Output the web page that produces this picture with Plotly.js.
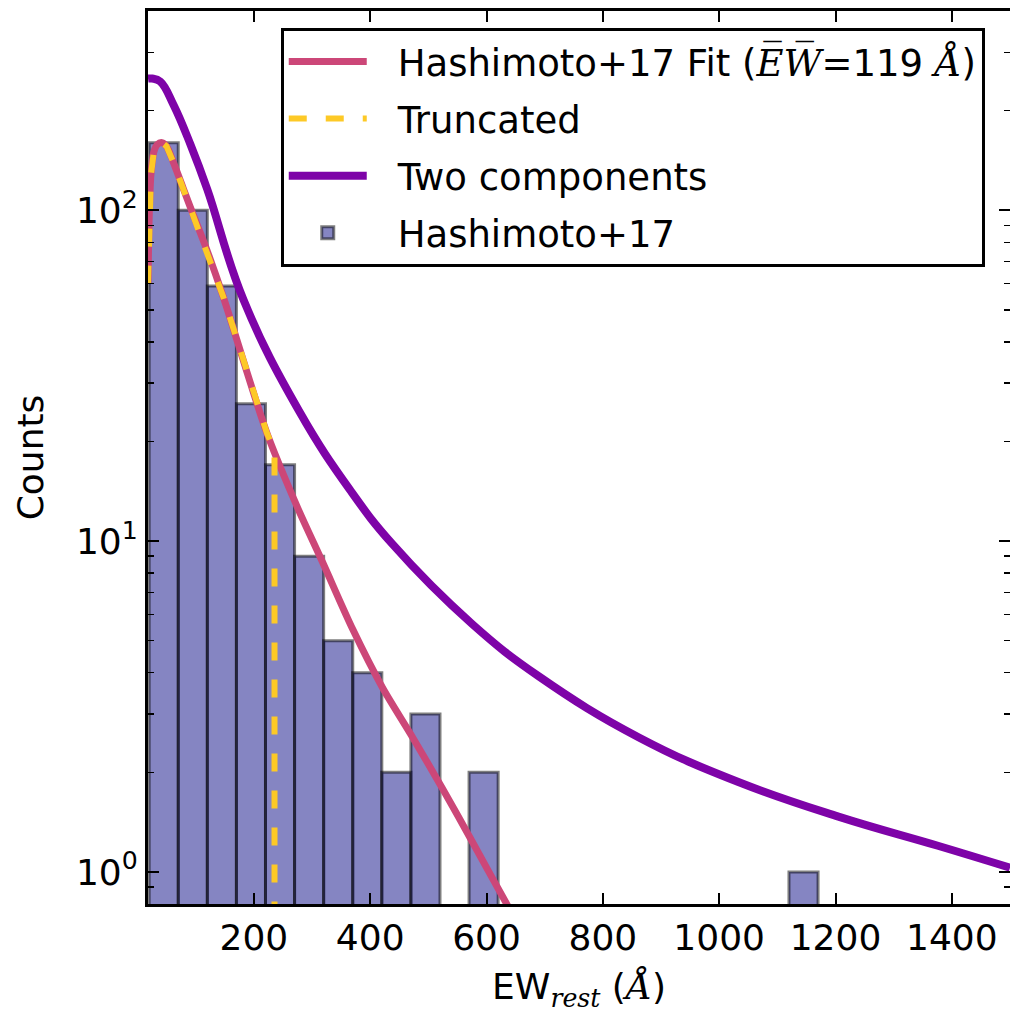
<!DOCTYPE html>
<html>
<head>
<meta charset="utf-8">
<script src="https://cdn.plot.ly/plotly-3.0.1.min.js"></script>
<style>html,body{margin:0;padding:0;background:#fff;}</style>
</head>
<body>
<div id="chart" style="width:1010px;height:1013px;"></div>
<script>
// Histogram (Hashimoto+17): bins of width 50 starting at 20
const binCenters = [45, 95, 145, 195, 245, 295, 345, 395, 445, 495, 595, 1145];
const binCounts  = [160, 100, 59, 26, 17, 9, 5, 4, 2, 3, 2, 1];
const binWidth   = 50;

// Hashimoto+17 fit curve
const fitEW     = [18, 20, 23, 28, 34, 42, 50, 62, 90, 119, 147, 222, 274, 318, 370, 421, 473, 524, 576, 634, 648];
const fitCounts = [60, 95, 128, 150, 158, 160, 156, 139, 103, 76, 55, 21.3, 12.75, 8.64, 5.41, 3.61, 2.55, 1.79, 1.23, 0.804, 0.73];

// Truncated version of the fit
const truncEW     = [18, 20, 23, 28, 34, 42, 50, 62, 90, 119, 147, 222, 235.5, 235.5];
const truncCounts = [60, 95, 128, 150, 158, 160, 156, 139, 103, 76, 55, 21.3, 18.7, 0.5];

// Two components model
const twoEW     = [18, 25, 39, 62, 91, 120, 182, 279, 365, 438, 576, 690, 862, 1033, 1205, 1376, 1500];
const twoCounts = [250, 250, 245, 208, 158, 115.5, 53.7, 24.5, 14.3, 9.8, 5.6, 3.9, 2.55, 1.87, 1.47, 1.2, 1.03];

const xTicks = [200, 400, 600, 800, 1000, 1200, 1400];
const yTickVals = [1, 10, 100];
const yTickText = ['10<sup>0</sup>', '10<sup>1</sup>', '10<sup>2</sup>'];

const FONT = 'DejaVu Sans, sans-serif';
const PAD = '\u2002\u2009';

const traces = [
  {
    type: 'bar', x: binCenters, y: binCounts, width: binWidth,
    name: PAD + 'Hashimoto+17', legendrank: 4, legendgroup: 'd',
    marker: {color: 'rgba(0,0,128,0.48)', line: {color: 'rgba(0,0,0,0.5)', width: 3}},
    hoverinfo: 'x+y'
  },
  {
    type: 'scatter', mode: 'lines', x: fitEW, y: fitCounts,
    name: PAD + 'Hashimoto+17 Fit (<span style="font-family:DejaVu Serif"><i>E\u0305W\u0305</i></span>=119 <span style="font-family:DejaVu Serif"><i>Å</i></span>)',
    legendrank: 1, legendgroup: 'a',
    line: {color: '#cc4778', width: 7, shape: 'spline', smoothing: 0.8}
  },
  {
    type: 'scatter', mode: 'lines', x: truncEW, y: truncCounts,
    name: PAD + 'Truncated', legendrank: 2, legendgroup: 'b',
    line: {color: '#fdc926', width: 6, dash: '18px,19px', shape: 'linear'}
  },
  {
    type: 'scatter', mode: 'lines', x: twoEW, y: twoCounts,
    name: PAD + 'Two components', legendrank: 3, legendgroup: 'c',
    line: {color: '#7e03a8', width: 8, shape: 'spline', smoothing: 1.2}
  }
];

const layout = {
  width: 1010, height: 1013,
  margin: {l: 148, r: 0, t: 11, b: 109},
  paper_bgcolor: '#fff', plot_bgcolor: '#fff',
  font: {family: FONT, size: 36, color: '#000'},
  bargap: 0,
  showlegend: true,
  legend: {
    x: 0.154, y: 0.981, xanchor: 'left', yanchor: 'top',
    bgcolor: '#fff', bordercolor: '#000', borderwidth: 3,
    font: {family: FONT, size: 37, color: '#000'},
    traceorder: 'grouped', tracegroupgap: 6, itemwidth: 78
  },
  xaxis: {
    range: [18, 1500], tickvals: xTicks, ticks: 'inside', ticklen: 11, tickwidth: 2,
    tickcolor: '#000', showline: true, linewidth: 3, linecolor: '#000', mirror: 'ticks',
    showgrid: false, zeroline: false,
    tickfont: {family: FONT, size: 36},
    title: {text: 'EW<sub><span style="font-family:DejaVu Serif"><i>rest</i></span></sub> (<span style="font-family:DejaVu Serif"><i>Å</i></span>)', font: {family: FONT, size: 36}, standoff: 24}
  },
  yaxis: {
    type: 'log', range: [Math.log10(0.8), Math.log10(400)],
    tickvals: yTickVals, ticktext: yTickText,
    ticks: 'inside', ticklen: 11, tickwidth: 2, tickcolor: '#000',
    minor: {ticks: 'inside', ticklen: 6, tickwidth: 1.5, tickcolor: '#000', showgrid: false, dtick: 'D1'},
    showline: true, linewidth: 3, linecolor: '#000', mirror: 'ticks',
    showgrid: false, zeroline: false,
    tickfont: {family: FONT, size: 36},
    title: {text: 'Counts', font: {family: FONT, size: 36}, standoff: 22}
  }
};

Plotly.newPlot('chart', traces, layout, {staticPlot: true, displayModeBar: false});
</script>
</body>
</html>
